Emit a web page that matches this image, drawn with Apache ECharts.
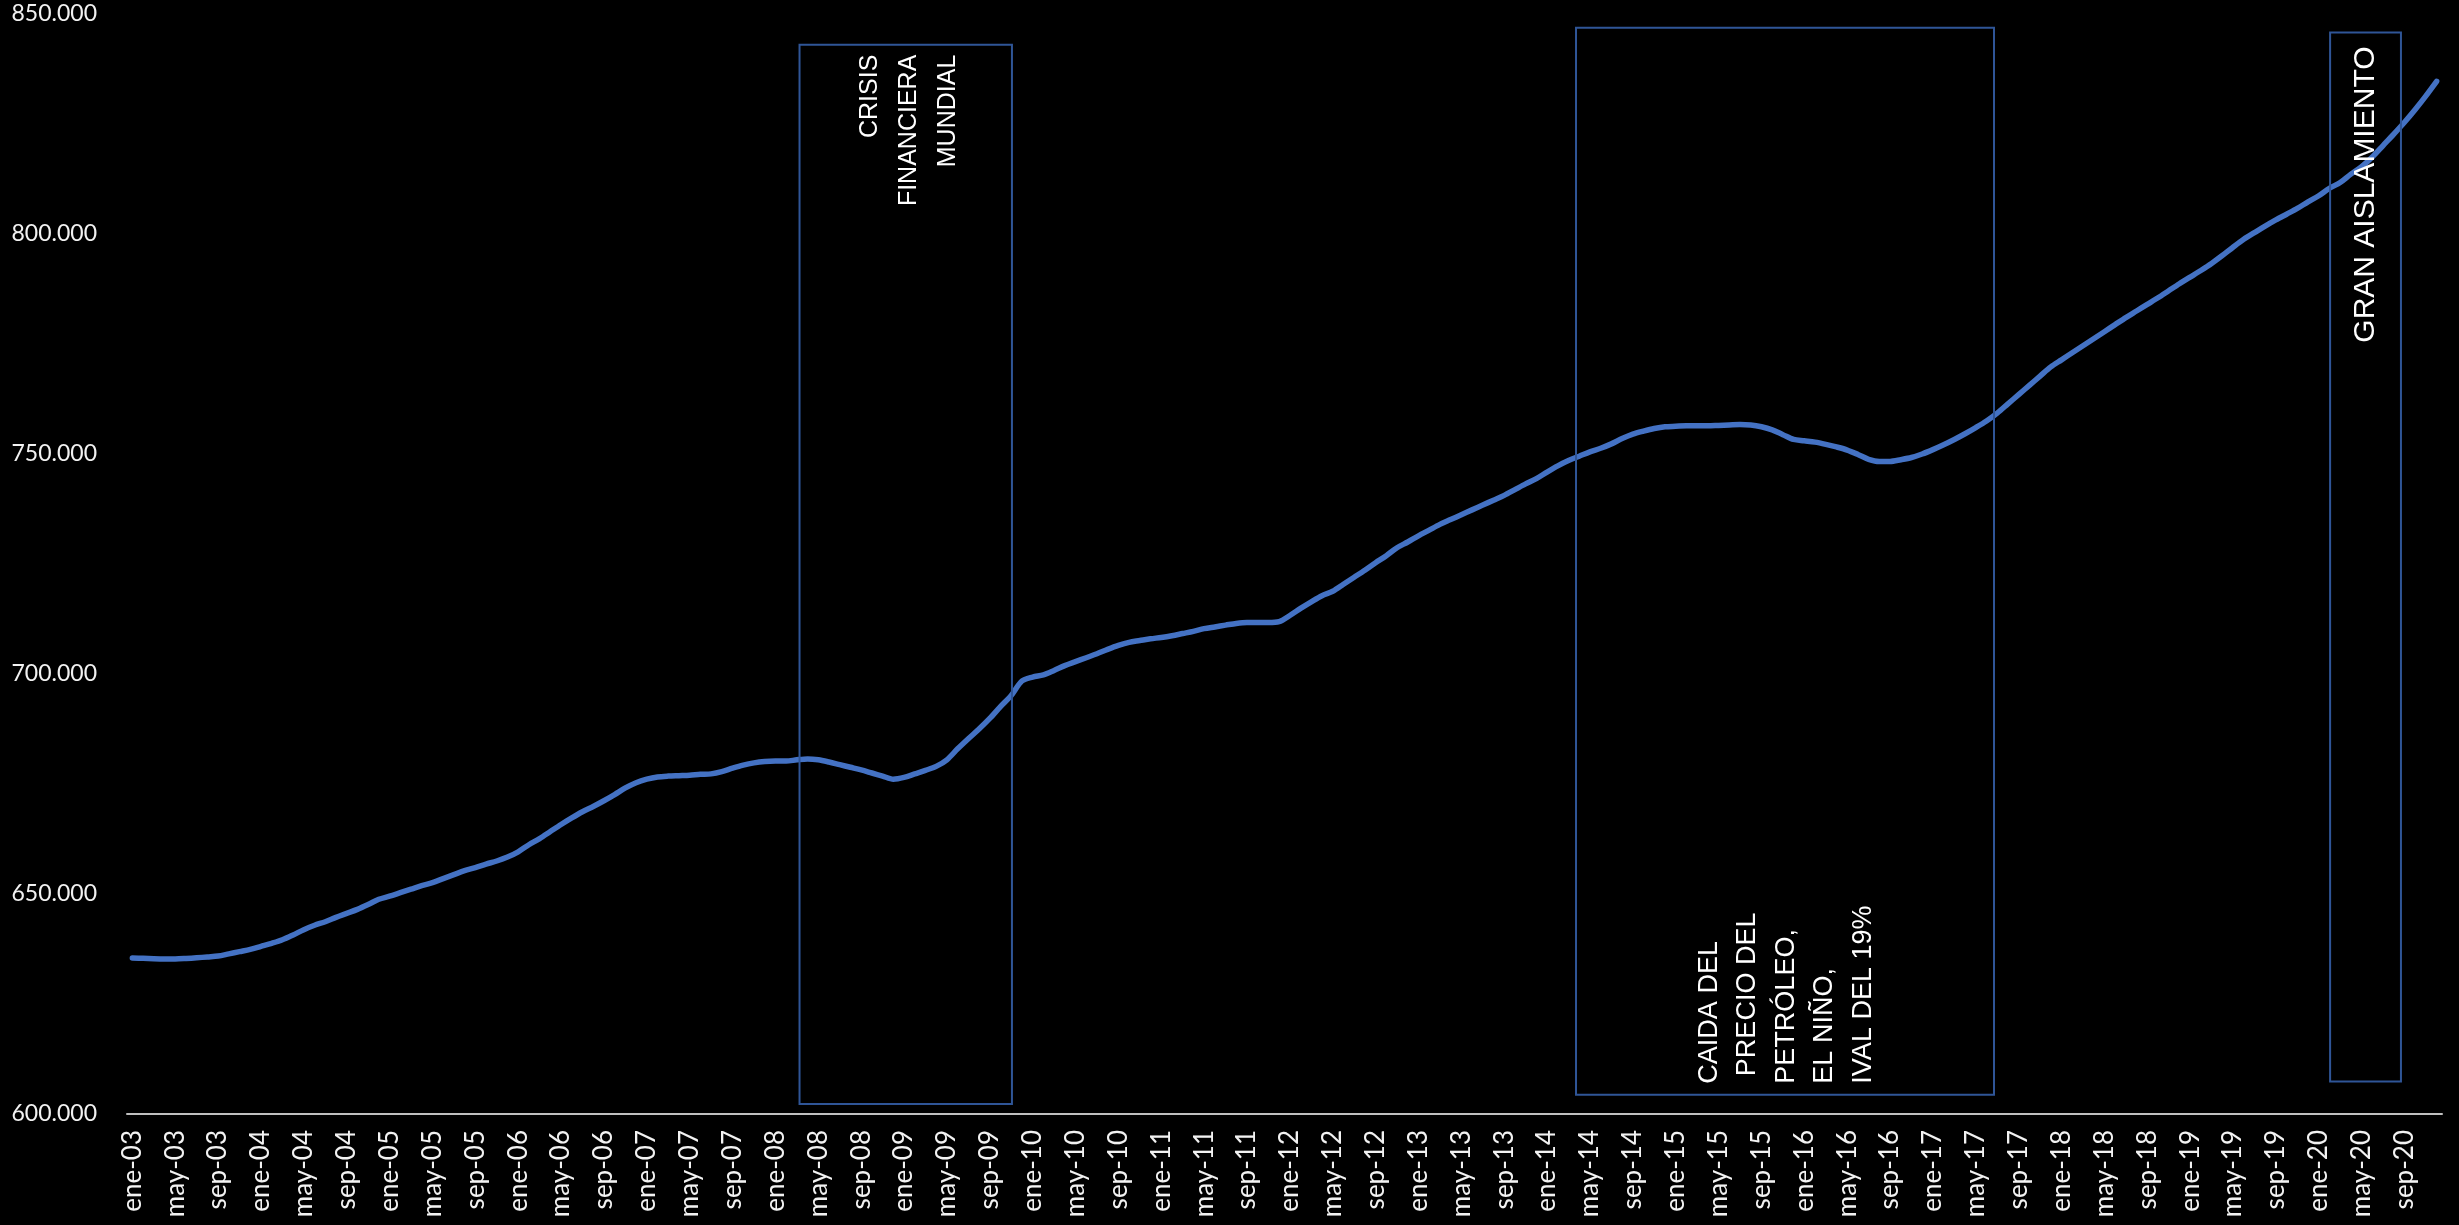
<!DOCTYPE html>
<html>
<head>
<meta charset="utf-8">
<script src="https://cdn.jsdelivr.net/npm/echarts@6/dist/echarts.min.js"></script>
<style>
  html, body { margin: 0; padding: 0; background: #000000; }
  #main { width: 2459px; height: 1225px; }
</style>
</head>
<body>
<div id="main"></div>
<script>
// Monthly series, one array per year (ene..dic)
const meses = ['ene', 'feb', 'mar', 'abr', 'may', 'jun', 'jul', 'ago', 'sep', 'oct', 'nov', 'dic'];
const anios = ['03', '04', '05', '06', '07', '08', '09', '10', '11', '12', '13', '14', '15', '16', '17', '18', '19', '20'];

const v2003 = [635450, 635400, 635300, 635250, 635250, 635350, 635500, 635700, 635900, 636400, 636900, 637400];
const v2004 = [638100, 638800, 639600, 640700, 641900, 642900, 643700, 644700, 645600, 646500, 647600, 648800];
const v2005 = [649500, 650300, 651100, 651900, 652600, 653500, 654400, 655300, 656000, 656800, 657500, 658400];
const v2006 = [659600, 661200, 662600, 664200, 665800, 667300, 668700, 669900, 671200, 672600, 674100, 675300];
const v2007 = [676100, 676600, 676800, 676900, 677000, 677200, 677300, 677800, 678600, 679300, 679800, 680100];
const v2008 = [680200, 680200, 680500, 680700, 680500, 680000, 679400, 678800, 678200, 677500, 676800, 676100];
const v2009 = [676500, 677300, 678100, 679000, 680500, 683000, 685300, 687500, 689900, 692600, 695100, 698400];
const v2010 = [699300, 699800, 700800, 701900, 702800, 703700, 704600, 705600, 706500, 707200, 707600, 708000];
const v2011 = [708300, 708700, 709200, 709700, 710300, 710700, 711100, 711500, 711700, 711700, 711700, 711900];
const v2012 = [713300, 714900, 716400, 717800, 718800, 720400, 722000, 723600, 725300, 726900, 728700, 730000];
const v2013 = [731400, 732700, 734000, 735100, 736200, 737300, 738400, 739500, 740600, 741900, 743200, 744400];
const v2014 = [745900, 747300, 748500, 749500, 750500, 751300, 752300, 753500, 754500, 755200, 755800, 756200];
const v2015 = [756300, 756400, 756400, 756400, 756500, 756600, 756700, 756600, 756200, 755500, 754400, 753300];
const v2016 = [753000, 752700, 752200, 751600, 750900, 749900, 748800, 748300, 748300, 748700, 749200, 750000];
const v2017 = [751000, 752100, 753300, 754600, 756000, 757500, 759300, 761400, 763500, 765600, 767700, 769800];
const v2018 = [771400, 773000, 774600, 776200, 777800, 779400, 781000, 782500, 784000, 785500, 787100, 788700];
const v2019 = [790200, 791700, 793300, 795100, 797000, 798800, 800300, 801800, 803200, 804500, 805800, 807300];
const v2020 = [808700, 810400, 811700, 813600, 815300, 817500, 820100, 822700, 825400, 828300, 831400, 834700];

// Y axis range and ticks
const yMin = 600000;
const yMax = 850000;
const yStep = 50000;

// Highlighted periods: span in months counted from ene-03, vertical extent in axis units
const periodos = [
  { texto: 'CRISIS\nFINANCIERA\nMUNDIAL', desde: 62.75, hasta: 82.57, arriba: 843000, abajo: 602300,
    ancla: [72.96, 840750], alinear: 'right', tam: 25, interlinea: 39 },
  { texto: 'CAIDA DEL\n PRECIO DEL\nPETRÓLEO,\nEL NIÑO,\nIVAL DEL 19%', desde: 135.2, hasta: 174.2, arriba: 846900, abajo: 604400,
    ancla: [154.8, 606900], alinear: 'left', tam: 27, interlinea: 38.5 },
  { texto: 'GRAN AISLAMIENTO', desde: 205.56, hasta: 212.17, arriba: 845800, abajo: 607400,
    ancla: [208.9, 775300], alinear: 'left', tam: 30, interlinea: 34 }
];

const valores = [].concat(v2003, v2004, v2005, v2006, v2007, v2008, v2009, v2010, v2011,
  v2012, v2013, v2014, v2015, v2016, v2017, v2018, v2019, v2020);
const categorias = [];
anios.forEach(a => meses.forEach(m => categorias.push(m + '-' + a)));

function miles(v) {
  return String(Math.round(v)).replace(/\B(?=(\d{3})+(?!\d))/g, '.');
}

const chart = echarts.init(document.getElementById('main'));
const labelFont = 'Lato, "Noto Sans", sans-serif';

chart.setOption({
  backgroundColor: '#000000',
  animation: false,
  grid: { left: 127, right: 17, top: 14, bottom: 111, containLabel: false },
  xAxis: [
    {
      type: 'category',
      data: categorias,
      boundaryGap: true,
      axisLine: { show: true, lineStyle: { color: '#BFBFBF', width: 2 } },
      axisTick: { show: false },
      splitLine: { show: false },
      axisLabel: {
        interval: 3,
        rotate: 90,
        margin: 16,
        color: '#F2F2F2',
        fontSize: 26,
        fontFamily: labelFont
      }
    },
    {
      type: 'value',
      min: 0,
      max: categorias.length,
      show: false
    }
  ],
  yAxis: {
    type: 'value',
    min: yMin,
    max: yMax,
    interval: yStep,
    axisLine: { show: false },
    axisTick: { show: false },
    splitLine: { show: false },
    axisLabel: {
      margin: 30,
      color: '#F2F2F2',
      fontSize: 23,
      fontFamily: labelFont,
      formatter: miles
    }
  },
  series: [
    {
      type: 'line',
      data: valores,
      smooth: 0.3,
      showSymbol: false,
      symbol: 'none',
      lineStyle: { color: '#4472C4', width: 5.5, cap: 'round', join: 'round' },
      z: 2
    },
    {
      type: 'line',
      xAxisIndex: 1,
      yAxisIndex: 0,
      data: [],
      z: 5,
      markArea: {
        silent: true,
        z: 5,
        label: { show: false },
        itemStyle: { color: 'rgba(0,0,0,0)', borderColor: '#2F5597', borderWidth: 2 },
        data: periodos.map(p => [{ coord: [p.desde, p.arriba] }, { coord: [p.hasta, p.abajo] }])
      }
    }
  ]
});

// Rotated period captions, placed through the chart's own scales
const textos = periodos.map(p => {
  const pt = chart.convertToPixel({ seriesIndex: 1 }, p.ancla);
  return {
    type: 'text',
    x: pt[0],
    y: pt[1],
    rotation: Math.PI / 2,
    z: 100,
    silent: true,
    style: {
      text: p.texto,
      fill: '#FFFFFF',
      fontSize: p.tam,
      fontFamily: '"Liberation Sans", Arial, sans-serif',
      lineHeight: p.interlinea,
      align: p.alinear,
      verticalAlign: 'middle'
    }
  };
});
chart.setOption({ graphic: textos });
</script>
</body>
</html>
